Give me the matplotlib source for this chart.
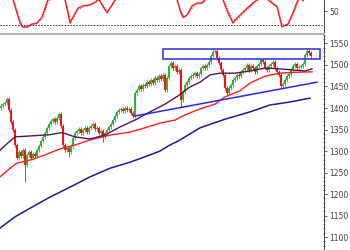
import numpy as np
import matplotlib
matplotlib.use("Agg")
import matplotlib.pyplot as plt
from matplotlib.ticker import MultipleLocator, FixedLocator
from matplotlib.patches import Rectangle

# candle positions (x units ~ pixels) and closing prices
candle_x = list(range(1, 312, 2))
closes = [
    1405, 1409, 1412, 1421, 1395, 1367, 1349, 1314, 1284, 1298,
    1288, 1302, 1267, 1291, 1298, 1284, 1293, 1288, 1302, 1312,
    1323, 1333, 1342, 1353, 1363, 1370, 1374, 1367, 1377, 1386,
    1358, 1314, 1302, 1307, 1298, 1312, 1330, 1342, 1346, 1351,
    1342, 1349, 1353, 1344, 1353, 1358, 1363, 1351, 1353, 1342,
    1346, 1333, 1342, 1349, 1356, 1363, 1372, 1381, 1391, 1395,
    1398, 1393, 1400, 1395, 1398, 1388, 1381, 1435, 1442, 1451,
    1444, 1453, 1451, 1460, 1456, 1465, 1458, 1470, 1465, 1474,
    1467, 1477, 1442, 1470, 1498, 1505, 1493, 1498, 1484, 1488,
    1419, 1437, 1453, 1460, 1470, 1474, 1477, 1481, 1474, 1479,
    1493, 1498, 1493, 1500, 1507, 1521, 1530, 1533, 1516, 1505,
    1488, 1477, 1447, 1435, 1447, 1453, 1465, 1470, 1477, 1474,
    1484, 1488, 1493, 1500, 1488, 1498, 1493, 1484, 1498, 1502,
    1512, 1507, 1493, 1488, 1498, 1502, 1507, 1493, 1484, 1477,
    1451, 1456, 1465, 1474, 1479, 1488, 1498, 1502, 1493, 1495,
    1498, 1502, 1523, 1533, 1528, 1521,
]
first_open = 1400
low_spikes = {25: 1228, 69: 1285, 103: 1322, 181: 1402, 227: 1430}

# moving averages
purple_x = [0, 8, 15, 30, 50, 62, 75, 90, 105, 120, 135, 150, 165, 178,
            190, 200, 210, 220, 235, 250, 265, 280, 295, 305, 312]
purple_y = [1302, 1319, 1333, 1335, 1338, 1343, 1333, 1328, 1337, 1356, 1372, 1391, 1409, 1428,
            1449, 1460, 1477, 1481, 1481, 1486, 1493, 1491, 1488, 1486, 1491]
red_x = [0, 10, 17, 30, 45, 60, 75, 90, 110, 130, 145, 160, 175, 185, 200, 215,
         225, 240, 250, 265, 280, 295, 312]
red_y = [1240, 1260, 1272, 1279, 1291, 1305, 1314, 1326, 1337, 1344, 1354, 1365, 1372, 1384, 1398, 1409,
         1426, 1440, 1458, 1474, 1481, 1483, 1484]
navy_x = [0, 15, 30, 50, 70, 90, 110, 130, 150, 160, 170, 178, 200, 225, 250, 270, 290, 310]
navy_y = [1121, 1147, 1167, 1193, 1216, 1240, 1260, 1274, 1291, 1300, 1314, 1323,
          1354, 1374, 1391, 1407, 1414, 1423]
trend_x = [134, 317]
trend_y = [1381, 1460]
box_x = [163, 320]
box_y = [1513, 1536]

# oscillator
osc_x = [0, 10, 13, 17, 20, 23, 27, 32, 37, 42, 45, 48, 52, 60,
         65, 68, 70, 73, 78, 83, 90, 95, 99, 102, 107, 112, 115, 120, 175,
         177, 180, 183, 187, 192, 197, 202, 205, 212, 220,
         223, 228, 233, 238, 247, 253, 257, 262,
         268, 272, 277, 282, 288, 293, 297, 300, 303, 306, 312]
osc_y = [90, 88, 74, 46, 24, 15, 16, 22, 24, 37, 56, 74, 85, 88,
         74, 46, 24, 37, 56, 61, 63, 69, 76, 63, 46, 63, 74, 86, 88,
         74, 52, 36, 41, 61, 67, 67, 74, 84, 82,
         74, 46, 24, 37, 56, 67, 74, 82,
         74, 67, 59, 16, 22, 46, 69, 80, 72, 80, 85]
sig_y = [90, 89, 78, 52, 30, 18, 15, 19, 23, 32, 50, 68, 82, 88,
         78, 52, 30, 33, 52, 59, 62, 67, 73, 66, 50, 60, 72, 84, 88,
         78, 57, 40, 40, 56, 65, 67, 72, 82, 83,
         78, 52, 30, 33, 52, 64, 72, 80,
         78, 69, 61, 22, 20, 40, 64, 77, 74, 78, 84]
osc_level = 20

up_col = "#2fb52f"
dn_col = "#ff1010"
axis_col = "#444444"

fig = plt.figure(figsize=(3.5, 2.5), dpi=100)
xmax = 324
ax = fig.add_axes([0, 0, xmax / 350, 1 - 34 / 250])
ax_o = fig.add_axes([0, 1 - 32.5 / 250, xmax / 350, 32.5 / 250])

# candles
opens = [first_open] + closes[:-1]
for x, o, c in zip(candle_x, opens, closes):
    hi = max(o, c) + 5
    lo = low_spikes.get(x, min(o, c) - 5)
    col = up_col if c >= o else dn_col
    ax.vlines(x, lo, hi, color=col, lw=0.6, zorder=2)
    ax.add_patch(Rectangle((x - 0.8, min(o, c)), 1.6, max(abs(c - o), 1.5),
                           facecolor=col, edgecolor="none", zorder=3))

ax.plot(navy_x, navy_y, color="#1c1c8e", lw=1.1, zorder=4)
ax.plot(red_x, red_y, color="#ff2020", lw=1.0, zorder=4)
ax.plot(purple_x, purple_y, color="#50184f", lw=1.0, zorder=4)
ax.plot(trend_x, trend_y, color="#2a2ae0", lw=1.1, zorder=5)
ax.add_patch(Rectangle((box_x[0], box_y[0]), box_x[1] - box_x[0], box_y[1] - box_y[0],
                       facecolor="none", edgecolor="#2a2ae0", lw=1.1, zorder=5))

ax.set_xlim(0, xmax)
ax.set_ylim(1070, 1572)
ax.yaxis.tick_right()
ax.yaxis.set_major_locator(MultipleLocator(50))
ax.yaxis.set_minor_locator(MultipleLocator(10))
ax.set_xticks([])

# oscillator panel
ax_o.plot(osc_x, sig_y, color="#888888", lw=0.9, ls=(0, (1, 1)), zorder=2)
ax_o.plot(osc_x, osc_y, color="#ff1a1a", lw=1.0, zorder=3)
ax_o.axhline(osc_level, color="#333333", lw=0.7, ls=(0, (1.5, 1.5)))
ax_o.set_xlim(0, xmax)
ax_o.set_ylim(3.9, 73.6)
ax_o.yaxis.tick_right()
ax_o.yaxis.set_major_locator(FixedLocator([50]))
ax_o.set_xticks([])

for a in (ax, ax_o):
    for s in ("left", "bottom", "top"):
        a.spines[s].set_visible(False)
    a.spines["right"].set_color(axis_col)
    a.spines["right"].set_linewidth(0.7)
    a.tick_params(axis="y", which="major", direction="out", length=2.5, width=0.6,
                  color=axis_col, labelsize=5.5, labelcolor=axis_col, pad=1.2)
    a.tick_params(axis="y", which="minor", direction="inout", length=2, width=0.5,
                  color=axis_col)
    a.patch.set_alpha(0)

ax.spines["top"].set_visible(True)
ax.spines["top"].set_color("#b4b4b4")
ax.spines["top"].set_linewidth(1.6)

fig.savefig("out.png", dpi=100)
